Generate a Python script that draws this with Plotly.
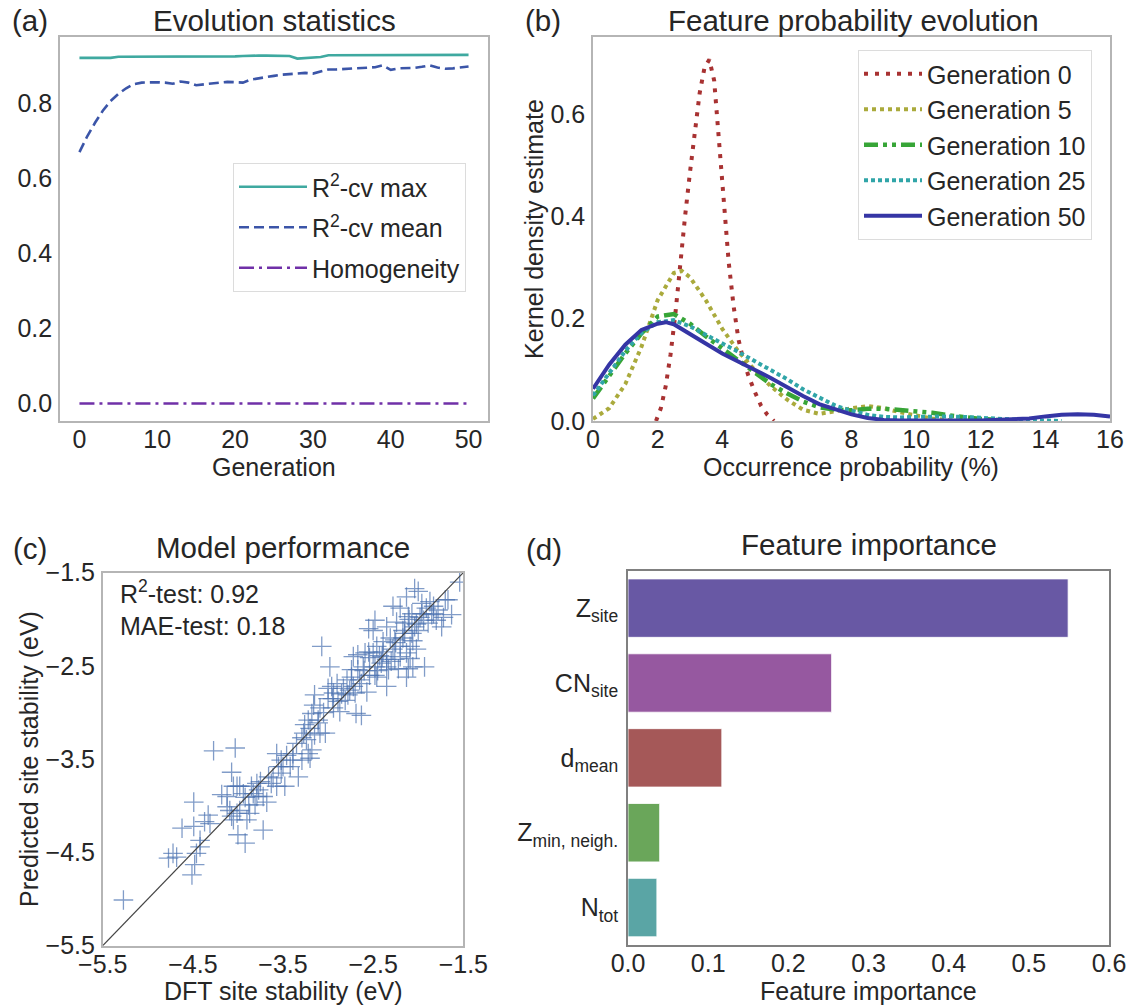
import plotly.graph_objects as go

W, H = 1130, 1005
FONT = "Liberation Sans, Arial, Helvetica, sans-serif"
TXT = "#262626"

# ---------------- (a) Evolution statistics ----------------
generations = [0, 1, 2, 3, 4, 5, 6, 7, 8, 9, 10, 11, 12, 13, 14, 15, 16, 17, 18, 19, 20,
               21, 22, 23, 24, 25, 26, 27, 28, 29, 30, 31, 32, 33, 34, 35, 36, 37, 38, 39, 40,
               41, 42, 43, 44, 45, 46, 47, 48, 49, 50]
r2_max = [0.921, 0.921, 0.921, 0.921, 0.921, 0.924, 0.924, 0.924, 0.924, 0.924, 0.924,
          0.924, 0.924, 0.924, 0.924, 0.924, 0.923, 0.923, 0.923, 0.924, 0.925,
          0.926, 0.927, 0.927, 0.927, 0.927, 0.927, 0.926, 0.919, 0.920, 0.922,
          0.923, 0.928, 0.928, 0.928, 0.928, 0.928, 0.928, 0.928, 0.928, 0.928,
          0.928, 0.928, 0.928, 0.928, 0.928, 0.928, 0.928, 0.928, 0.929, 0.929]
r2_mean = [0.670, 0.712, 0.748, 0.780, 0.806, 0.825, 0.840, 0.851, 0.855, 0.856, 0.856,
           0.855, 0.852, 0.858, 0.855, 0.848, 0.851, 0.854, 0.855, 0.857, 0.857,
           0.855, 0.863, 0.867, 0.870, 0.873, 0.876, 0.878, 0.880, 0.881, 0.879,
           0.885, 0.890, 0.890, 0.891, 0.891, 0.892, 0.893, 0.896, 0.901, 0.889,
           0.893, 0.894, 0.894, 0.897, 0.901, 0.895, 0.892, 0.893, 0.895, 0.898]
homogeneity = [0.0, 0.0, 0.0, 0.0, 0.0, 0.0, 0.0, 0.0, 0.0, 0.0, 0.0,
               0.0, 0.0, 0.0, 0.0, 0.0, 0.0, 0.0, 0.0, 0.0, 0.0,
               0.0, 0.0, 0.0, 0.0, 0.0, 0.0, 0.0, 0.0, 0.0, 0.0,
               0.0, 0.0, 0.0, 0.0, 0.0, 0.0, 0.0, 0.0, 0.0, 0.0,
               0.0, 0.0, 0.0, 0.0, 0.0, 0.0, 0.0, 0.0, 0.0, 0.0]

# ---------------- (b) Feature probability evolution ----------------
g0_x = [1.95, 2.1, 2.25, 2.4, 2.55, 2.7, 2.85, 3.0, 3.15, 3.3, 3.45, 3.6, 3.75, 3.9,
        4.05, 4.2, 4.35, 4.5, 4.65, 4.8, 5.0, 5.2, 5.4, 5.6]
g0_y = [0.0, 0.025, 0.068, 0.13, 0.21, 0.31, 0.40, 0.485, 0.565, 0.64, 0.69, 0.706,
        0.665, 0.55, 0.42, 0.31, 0.225, 0.16, 0.12, 0.09, 0.058, 0.03, 0.012, 0.0]
g5_x = [0, 0.5, 1.0, 1.5, 2.0, 2.5, 2.75, 3.0, 3.5, 4.0, 4.5, 5.0, 5.5, 6.0, 6.5, 7.0,
        7.5, 8.0, 8.5, 9.0, 9.5, 10.0, 10.5, 11.0, 11.5]
g5_y = [0.004, 0.025, 0.072, 0.145, 0.236, 0.289, 0.293, 0.281, 0.235, 0.18, 0.136,
        0.10, 0.068, 0.042, 0.022, 0.014, 0.019, 0.025, 0.029, 0.025, 0.017, 0.010,
        0.005, 0.002, 0.0]
g10_x = [0, 0.5, 1.0, 1.5, 2.0, 2.5, 3.0, 3.5, 4.0, 4.5, 5.0, 5.5, 6.0, 6.5, 7.0, 7.5,
         8.0, 8.5, 9.0, 9.5, 10.0, 10.5, 11.0, 11.5, 12.0, 12.5, 13.0]
g10_y = [0.044, 0.089, 0.132, 0.171, 0.204, 0.209, 0.19, 0.165, 0.142, 0.12, 0.095,
         0.072, 0.054, 0.038, 0.027, 0.022, 0.021, 0.024, 0.024, 0.022, 0.020, 0.016,
         0.011, 0.007, 0.004, 0.002, 0.001]
g25_x = [0, 0.5, 1.0, 1.5, 2.0, 2.5, 3.0, 3.5, 4.0, 4.5, 5.0, 5.5, 6.0, 6.5, 7.0, 7.5,
         8.0, 8.5, 9.0, 9.5, 10.0, 10.5, 11.0, 11.5, 12.0, 12.5, 13.0, 13.5, 14.0, 14.5]
g25_y = [0.05, 0.095, 0.137, 0.172, 0.193, 0.197, 0.185, 0.168, 0.152, 0.135, 0.117,
         0.10, 0.082, 0.062, 0.045, 0.030, 0.020, 0.012, 0.008, 0.007, 0.008, 0.009,
         0.009, 0.008, 0.006, 0.004, 0.003, 0.002, 0.001, 0.0]
g50_x = [0, 0.5, 1.0, 1.5, 2.0, 2.25, 2.5, 3.0, 3.5, 4.0, 4.5, 5.0, 5.5, 6.0, 6.5, 7.0,
         7.5, 8.0, 8.5, 9.0, 9.5, 10.0, 10.5, 11.0, 11.5, 12.0, 12.5, 13.0, 13.5, 14.0,
         14.5, 15.0, 15.5, 16.0]
g50_y = [0.063, 0.11, 0.149, 0.178, 0.19, 0.193, 0.189, 0.171, 0.151, 0.132, 0.115,
         0.10, 0.084, 0.066, 0.049, 0.033, 0.022, 0.013, 0.006, 0.002, 0.001, 0.0005,
         0.0005, 0.0005, 0.001, 0.001, 0.002, 0.003, 0.005, 0.009, 0.012, 0.013, 0.012,
         0.009]

# ---------------- (c) Model performance ----------------
dft = [-5.27, -4.77, -4.72, -4.68, -4.62, -4.49, -4.51, -4.48, -4.46, -4.42, -4.49, -4.37,
       -4.33, -4.31, -4.27, -4.03, -4.07, -4.18, -4.12, -4.09, -4.05, -4.00, -3.92, -4.05,
       -3.98, -3.92, -3.88, -3.85, -3.79, -3.77, -3.72, -3.68, -3.72, -3.98, -4.01, -3.81,
       -3.83, -3.75, -3.66, -3.57, -3.55, -3.52, -3.48, -3.46, -3.52, -3.61, -3.39, -3.35,
       -3.33, -3.29, -3.20, -3.18, -3.27, -3.26, -3.22, -3.18, -3.20, -3.15, -3.09, -3.03,
       -3.16, -3.15, -3.07, -3.00, -2.98, -2.96, -3.00, -2.94, -2.90, -2.87, -2.83, -2.79,
       -2.76, -2.74, -2.72, -2.78, -2.69, -2.63, -2.65, -2.67, -2.72, -2.67, -2.61, -2.59,
       -2.57, -2.54, -2.50, -2.48, -2.46, -2.41, -2.39, -2.35, -2.33, -2.35, -2.28, -2.26,
       -2.22, -2.13, -2.11, -2.09, -2.06, -1.93, -2.20, -2.17, -2.55, -2.48, -2.50, -2.35,
       -2.28, -2.20, -2.17, -2.15, -2.11, -2.07, -2.04, -2.13, -2.04, -2.00, -1.96, -1.91,
       -1.87, -1.83, -1.80, -1.74, -1.70, -1.67, -1.63, -1.94, -2.00, -2.06, -2.07, -1.96,
       -1.89, -1.83, -1.54, -2.24, -2.31, -2.39, -2.46, -2.55, -2.09, -2.94, -3.09, -3.11,
       -2.89, -2.81, -2.70, -2.54, -2.43, -2.26, -2.02, -2.13, -2.48, -3.39, -3.42, -3.50,
       -3.57, -3.63, -3.87, -3.90, -3.79, -3.94, -4.07, -4.12, -4.42, -4.01, -3.11, -3.24,
       -3.22, -3.29, -2.63, -2.74, -2.35, -2.20, -1.98, -1.85, -2.02, -2.25, -2.15, -2.40,
       -2.60, -2.85, -3.05, -2.95, -1.78, -1.72, -2.10, -2.30, -2.45]
predicted = [-5.01, -4.56, -4.51, -4.55, -4.24, -4.22, -4.74, -4.63, -4.51, -4.37, -3.96, -4.17,
             -4.10, -4.19, -3.41, -3.38, -3.64, -3.88, -3.90, -4.05, -4.15, -4.31, -4.40, -3.79,
             -3.79, -3.91, -3.99, -3.79, -3.76, -3.83, -3.90, -3.96, -4.26, -4.05, -4.08, -3.99,
             -3.87, -3.74, -3.69, -3.44, -3.58, -3.51, -3.79, -3.46, -3.65, -3.70, -3.44, -3.33,
             -3.69, -3.51, -3.49, -3.40, -3.22, -3.13, -3.08, -3.01, -3.17, -3.24, -3.22, -3.22,
             -2.92, -2.81, -2.29, -2.85, -2.51, -2.72, -2.74, -2.79, -2.69, -2.99, -2.74, -2.65,
             -2.76, -2.62, -2.72, -2.81, -3.01, -3.03, -2.65, -2.54, -2.40, -2.38, -2.51, -2.36,
             -2.78, -2.60, -2.36, -2.51, -2.62, -2.47, -2.35, -2.72, -2.54, -2.43, -2.32, -2.43,
             -2.53, -2.62, -2.53, -2.42, -2.51, -2.51, -2.29, -2.20, -2.10, -2.01, -2.12, -2.08,
             -1.86, -1.88, -2.12, -2.04, -1.97, -2.15, -2.08, -1.76, -1.67, -1.70, -1.83, -1.88,
             -1.81, -1.94, -2.01, -2.08, -1.79, -1.79, -1.95, -2.01, -2.12, -2.23, -1.94, -1.94,
             -2.04, -1.86, -1.60, -2.03, -2.20, -2.24, -2.29, -2.35, -2.29, -2.95, -2.95, -3.08,
             -2.88, -2.87, -2.79, -2.41, -2.39, -2.22, -2.32, -2.36, -2.60, -3.51, -3.58, -3.58,
             -3.79, -3.76, -4.08, -4.15, -3.90, -3.87, -4.11, -4.01, -4.44, -3.79, -3.11, -3.29,
             -3.44, -3.27, -2.69, -2.54, -2.51, -2.40, -1.98, -1.95, -2.05, -2.25, -2.15, -2.40,
             -2.55, -2.80, -3.00, -2.85, -1.90, -1.98, -2.00, -2.45, -2.55]
diag = [-5.5, -1.5]
stab_ticks = [-5.5, -4.5, -3.5, -2.5, -1.5]
stab_text = ["\u22125.5", "\u22124.5", "\u22123.5", "\u22122.5", "\u22121.5"]

# ---------------- (d) Feature importance ----------------
features = ["Z<sub>site</sub>", "CN<sub>site</sub>", "d<sub>mean</sub>",
            "Z<sub>min, neigh.</sub>", "N<sub>tot</sub>"]
importance = [0.549, 0.254, 0.117, 0.0395, 0.036]
bar_colors = ["#6858a4", "#9658a0", "#a55858", "#6aa65a", "#5aa5a5"]

TICK = 25
TITLE = 29.5
LAB = 25


def dx(p):
    return p / W


def dy(p):
    return 1 - p / H


fig = go.Figure()

# (a)
fig.add_trace(go.Scatter(x=generations, y=r2_max, mode="lines", name="R<sup>2</sup>-cv max",
                         line=dict(color="#3fa9a0", width=2.6), xaxis="x", yaxis="y",
                         legend="legend", legendgroup="a1"))
fig.add_trace(go.Scatter(x=generations, y=r2_mean, mode="lines", name="R<sup>2</sup>-cv mean",
                         line=dict(color="#3b55a8", width=2.6, dash="10px,5px"),
                         xaxis="x", yaxis="y", legend="legend", legendgroup="a2"))
fig.add_trace(go.Scatter(x=generations, y=homogeneity, mode="lines", name="Homogeneity",
                         line=dict(color="#7030a8", width=2.6, dash="15px,5px,3px,5px"),
                         xaxis="x", yaxis="y", legend="legend", legendgroup="a3"))

# (b)
fig.add_trace(go.Scatter(x=g0_x, y=g0_y, mode="lines", name="Generation 0",
                         line=dict(color="#a83232", width=4, dash="4px,7px"),
                         xaxis="x2", yaxis="y2", legend="legend2"))
fig.add_trace(go.Scatter(x=g5_x, y=g5_y, mode="lines", name="Generation 5",
                         line=dict(color="#aaaa3c", width=4, dash="4px,4px"),
                         xaxis="x2", yaxis="y2", legend="legend2"))
fig.add_trace(go.Scatter(x=g10_x, y=g10_y, mode="lines", name="Generation 10",
                         line=dict(color="#37a537", width=4.5,
                                   dash="14px,5px,4px,5px,4px,5px"),
                         xaxis="x2", yaxis="y2", legend="legend2"))
fig.add_trace(go.Scatter(x=g25_x, y=g25_y, mode="lines", name="Generation 25",
                         line=dict(color="#30a5a8", width=4, dash="4px,3px"),
                         xaxis="x2", yaxis="y2", legend="legend2"))
fig.add_trace(go.Scatter(x=g50_x, y=g50_y, mode="lines", name="Generation 50",
                         line=dict(color="#3535a5", width=4),
                         xaxis="x2", yaxis="y2", legend="legend2"))

# (c)
fig.add_trace(go.Scatter(x=dft, y=predicted, mode="markers", showlegend=False,
                         marker=dict(symbol="cross-thin", size=14,
                                     line=dict(width=1.3, color="rgba(76,114,176,0.7)")),
                         xaxis="x3", yaxis="y3"))
fig.add_trace(go.Scatter(x=diag, y=diag, mode="lines", showlegend=False,
                         line=dict(color="#444444", width=1.2), xaxis="x3", yaxis="y3"))

# (d)
fig.add_trace(go.Bar(x=importance, y=features, orientation="h", width=0.78,
                     marker=dict(color=bar_colors, line=dict(color="rgba(255,255,255,0.8)", width=1)),
                     showlegend=False, xaxis="x4", yaxis="y4"))

base = dict(showline=True, mirror=True, linecolor="#b5b5b5", linewidth=1.6,
            showgrid=False, zeroline=False, ticks="", automargin=False,
            tickfont=dict(size=TICK, color=TXT, family=FONT))
xbase = dict(base, ticklabelstandoff=-5)
ybase = dict(base, ticklabelstandoff=1)

fig.update_layout(
    template="none",
    width=W, height=H, margin=dict(l=0, r=0, t=0, b=0, pad=0), autosize=False,
    paper_bgcolor="white", plot_bgcolor="white",
    font=dict(family=FONT, color=TXT, size=LAB),
    xaxis=dict(xbase, domain=[dx(60), dx(488)], range=[-2.5, 52.5],
               tickvals=[0, 10, 20, 30, 40, 50], anchor="y"),
    yaxis=dict(ybase, domain=[dy(421), dy(37)], range=[-0.0465, 0.9765],
               tickvals=[0, 0.2, 0.4, 0.6, 0.8], ticktext=["0.0", "0.2", "0.4", "0.6", "0.8"],
               anchor="x"),
    xaxis2=dict(xbase, domain=[dx(593), dx(1110)], range=[0, 16],
                tickvals=[0, 2, 4, 6, 8, 10, 12, 14, 16], anchor="y2"),
    yaxis2=dict(ybase, domain=[dy(421), dy(37)], range=[0, 0.75],
                tickvals=[0, 0.2, 0.4, 0.6], ticktext=["0.0", "0.2", "0.4", "0.6"],
                anchor="x2"),
    xaxis3=dict(xbase, domain=[dx(102.7), dx(463.3)], range=[-5.5, -1.5],
                tickvals=stab_ticks, ticktext=stab_text, anchor="y3"),
    yaxis3=dict(ybase, domain=[dy(945.7), dy(572.7)], range=[-5.5, -1.5],
                tickvals=stab_ticks, ticktext=stab_text, anchor="x3"),
    xaxis4=dict(xbase, domain=[dx(628), dx(1109)], range=[0, 0.6], linecolor="#808080",
                tickvals=[0, 0.1, 0.2, 0.3, 0.4, 0.5, 0.6],
                ticktext=["0.0", "0.1", "0.2", "0.3", "0.4", "0.5", "0.6"], anchor="y4"),
    yaxis4=dict(ybase, domain=[dy(945), dy(570.7)], type="category", range=[4.5, -0.5],
                linecolor="#808080", ticklabelstandoff=3, anchor="x4"),
    legend=dict(x=dx(233), y=dy(163), xanchor="left", yanchor="top",
                bgcolor="white", bordercolor="#dcdcdc", borderwidth=1, tracegroupgap=5,
                font=dict(size=LAB, color=TXT, family=FONT), itemwidth=68),
    legend2=dict(x=dx(858), y=dy(50), xanchor="left", yanchor="top",
                 bgcolor="white", bordercolor="#dcdcdc", borderwidth=1,
                 font=dict(size=LAB, color=TXT, family=FONT), itemwidth=58),
)

annotations = [
    # panel labels
    dict(text="(a)", x=dx(30), y=dy(21), size=TITLE),
    dict(text="(b)", x=dx(543), y=dy(21), size=TITLE),
    dict(text="(c)", x=dx(30), y=dy(548), size=TITLE),
    dict(text="(d)", x=dx(544), y=dy(549), size=TITLE),
    # titles
    dict(text="Evolution statistics", x=dx(274), y=dy(21), size=TITLE),
    dict(text="Feature probability evolution", x=dx(853), y=dy(21), size=TITLE),
    dict(text="Model performance", x=dx(283), y=dy(547), size=TITLE),
    dict(text="Feature importance", x=dx(869), y=dy(544), size=TITLE),
    # axis titles
    dict(text="Generation", x=dx(274), y=dy(467), size=LAB),
    dict(text="Occurrence probability (%)", x=dx(851), y=dy(467), size=LAB),
    dict(text="DFT site stability (eV)", x=dx(283), y=dy(991), size=LAB),
    dict(text="Feature importance", x=dx(868), y=dy(991), size=LAB),
]
ann_list = []
for a in annotations:
    ann_list.append(dict(text=a["text"], x=a["x"], y=a["y"], xref="paper", yref="paper",
                         xanchor="center", yanchor="middle", showarrow=False,
                         font=dict(size=a["size"], color=TXT, family=FONT)))
ann_list.append(dict(text="Kernel density estimate", x=dx(534), y=dy(229), xref="paper",
                     yref="paper", xanchor="center", yanchor="middle", showarrow=False,
                     textangle=-90, font=dict(size=LAB, color=TXT, family=FONT)))
ann_list.append(dict(text="Predicted site stability (eV)", x=dx(29), y=dy(759), xref="paper",
                     yref="paper", xanchor="center", yanchor="middle", showarrow=False,
                     textangle=-90, font=dict(size=LAB, color=TXT, family=FONT)))
ann_list.append(dict(text="R<sup>2</sup>-test: 0.92<br>MAE-test: 0.18", x=dx(118), y=dy(574),
                     xref="paper", yref="paper", xanchor="left", yanchor="top",
                     align="left", showarrow=False,
                     font=dict(size=LAB, color=TXT, family=FONT)))
fig.update_layout(annotations=ann_list)

fig.write_html("out.html")
